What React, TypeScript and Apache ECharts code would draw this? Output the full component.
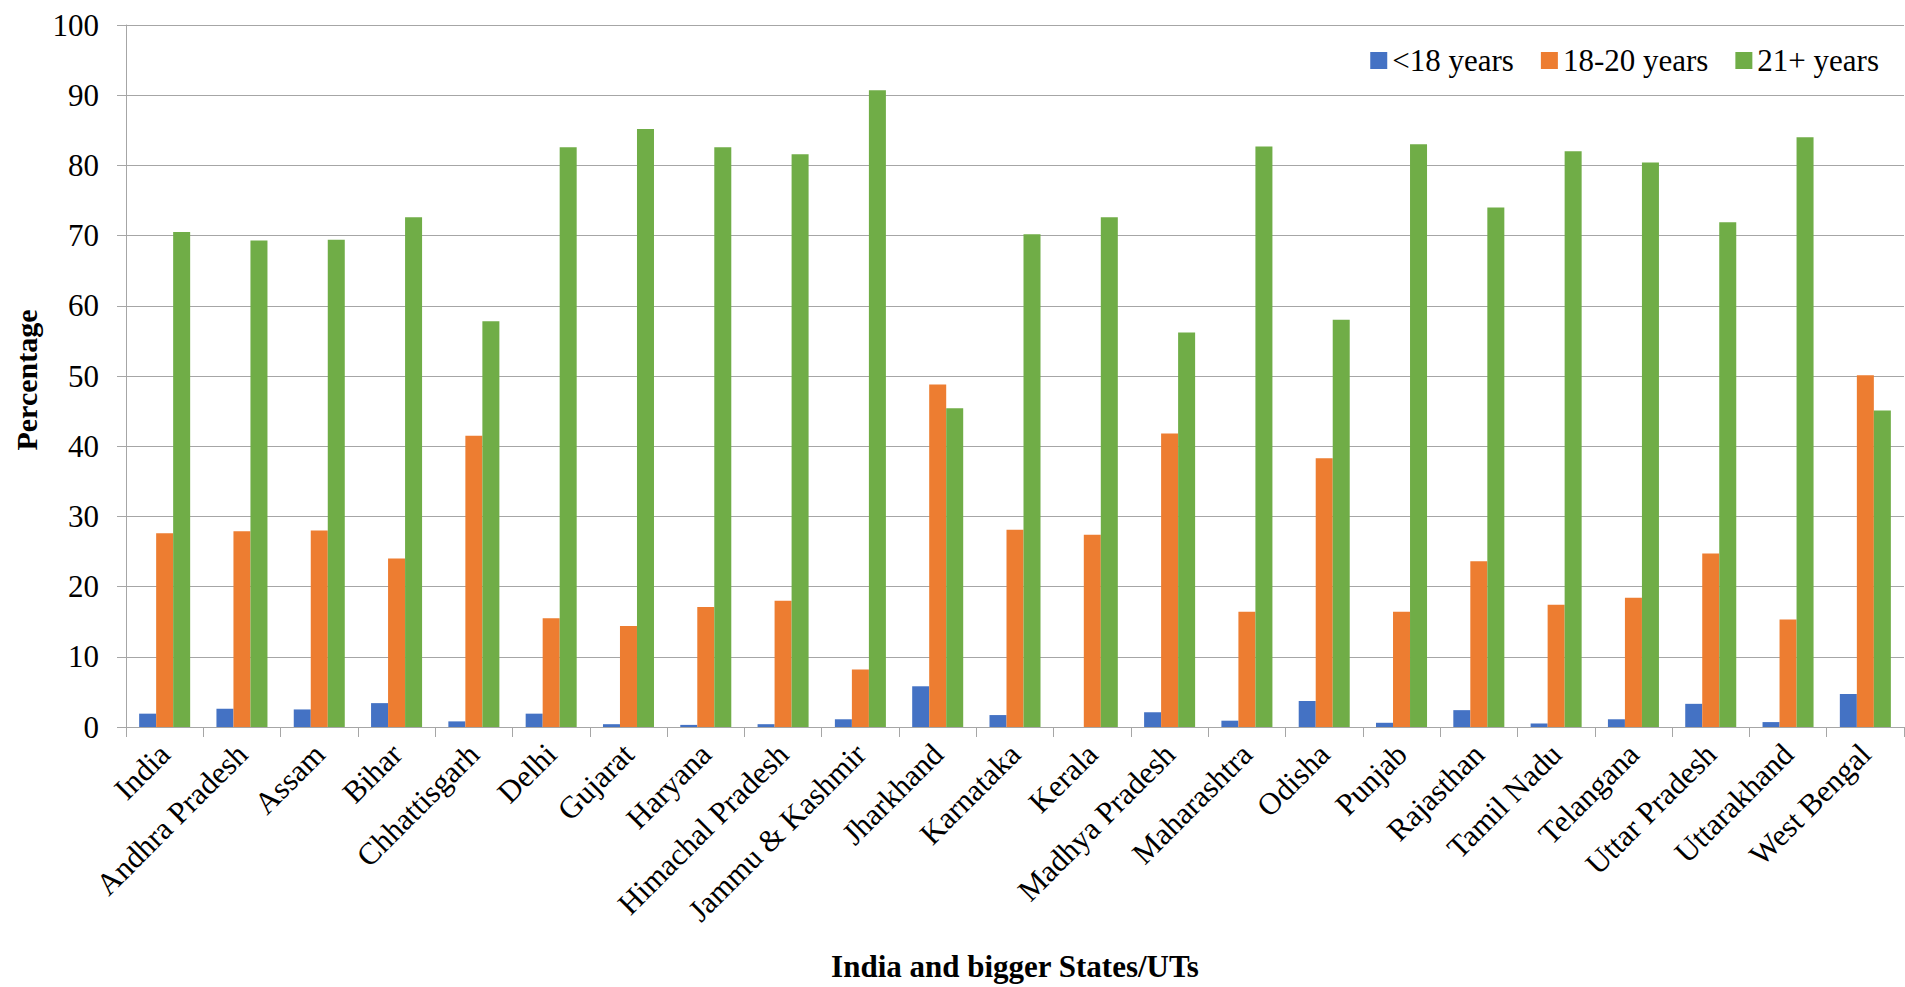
import React, { useEffect, useRef } from "react";
import * as echarts from "echarts";

const categories = [
  "India", "Andhra Pradesh", "Assam", "Bihar", "Chhattisgarh", "Delhi", "Gujarat",
  "Haryana", "Himachal Pradesh", "Jammu & Kashmir", "Jharkhand", "Karnataka", "Kerala",
  "Madhya Pradesh", "Maharashtra", "Odisha", "Punjab", "Rajasthan", "Tamil Nadu",
  "Telangana", "Uttar Pradesh", "Uttarakhand", "West Bengal",
];
const under18 = [1.9, 2.6, 2.5, 3.4, 0.8, 1.9, 0.4, 0.3, 0.4, 1.1, 5.8, 1.7, 0.0, 2.1, 0.9, 3.7, 0.6, 2.4, 0.5, 1.1, 3.3, 0.7, 4.7];
const age18to20 = [27.6, 27.9, 28.0, 24.0, 41.5, 15.5, 14.4, 17.1, 18.0, 8.2, 48.8, 28.1, 27.4, 41.8, 16.4, 38.3, 16.4, 23.6, 17.4, 18.4, 24.7, 15.3, 50.1];
const age21plus = [70.5, 69.3, 69.4, 72.6, 57.8, 82.6, 85.2, 82.6, 81.6, 90.7, 45.4, 70.2, 72.6, 56.2, 82.7, 58.0, 83.0, 74.0, 82.0, 80.4, 71.9, 84.0, 45.1];
const seriesNames = ["<18 years", "18-20 years", "21+ years"];
const colors = ["#4472C4", "#ED7D31", "#70AD47"];
const yTicks = { min: 0, max: 100, interval: 10 };
const xTitle = "India and bigger States/UTs";
const yTitle = "Percentage";

const FONT = "'Liberation Serif', 'Times New Roman', serif";

export default function App() {
  const ref = useRef<HTMLDivElement>(null);
  useEffect(() => {
    document.body.style.margin = "0";
    const chart = echarts.init(ref.current!, null, { renderer: "svg" });
    const data = [under18, age18to20, age21plus];
    chart.setOption({
      animation: false,
      textStyle: { fontFamily: FONT, color: "#000" },
      grid: { left: 126, right: 1, top: 25, bottom: 260, containLabel: false },
      legend: {
        right: 21,
        top: 40,
        itemWidth: 17,
        itemHeight: 17,
        itemGap: 27,
        icon: "rect",
        textStyle: { fontFamily: FONT, fontSize: 31, color: "#000" },
        data: seriesNames,
      },
      xAxis: {
        type: "category",
        data: categories,
        axisLine: { show: true, lineStyle: { color: "#A6A6A6", width: 1 } },
        axisTick: { show: true, interval: 0, length: 10, lineStyle: { color: "#A6A6A6" } },
        axisLabel: {
          interval: 0,
          rotate: 45,
          margin: 22,
          fontFamily: FONT,
          fontSize: 31,
          color: "#000",
        },
      },
      yAxis: {
        type: "value",
        min: yTicks.min,
        max: yTicks.max,
        interval: yTicks.interval,
        axisLine: { show: true, lineStyle: { color: "#A6A6A6", width: 1 } },
        axisTick: { show: true, length: 9, lineStyle: { color: "#A6A6A6" } },
        splitLine: { show: true, lineStyle: { color: "#A6A6A6", width: 1 } },
        axisLabel: { margin: 27, fontFamily: FONT, fontSize: 31, color: "#000" },
      },
      graphic: [
        {
          type: "text",
          x: 1015,
          y: 966,
          style: {
            text: xTitle,
            fontFamily: FONT,
            fontSize: 31,
            fontWeight: "bold",
            fill: "#000",
            textAlign: "center",
            textVerticalAlign: "middle",
          },
        },
        {
          type: "text",
          x: 26,
          y: 380,
          rotation: Math.PI / 2,
          style: {
            text: yTitle,
            fontFamily: FONT,
            fontSize: 30,
            fontWeight: "bold",
            fill: "#000",
            textAlign: "center",
            textVerticalAlign: "middle",
          },
        },
      ],
      series: seriesNames.map((name, i) => ({
        name,
        type: "bar",
        data: data[i],
        barGap: "0%",
        barCategoryGap: "34%",
        itemStyle: { color: colors[i] },
      })),
    });
    return () => chart.dispose();
  }, []);
  return (
    <div
      ref={ref}
      style={{ position: "absolute", left: 0, top: 0, width: "1905px", height: "987px" }}
    />
  );
}
